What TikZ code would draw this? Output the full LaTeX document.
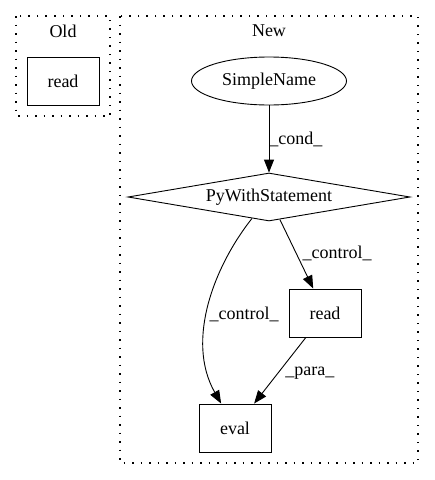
\documentclass[tikz,border=0pt]{standalone}
\usepackage{fontspec}
\setmainfont{Liberation Serif}
\usepackage{tikz}
\usetikzlibrary{shapes.geometric,arrows.meta}

\tikzset{
  box/.style={draw,line width=0.9pt,minimum width=72pt,minimum height=48pt,inner sep=0pt},
  oval/.style={draw,ellipse,line width=0.9pt,minimum width=155pt,minimum height=48pt,inner sep=0pt},
  rhomb/.style={draw,diamond,line width=0.9pt,aspect=6,minimum width=282pt,minimum height=48pt,inner sep=0pt},
  cluster/.style={line width=1.2pt,dash pattern=on 1.5pt off 7pt},
  edge/.style={line width=0.9pt,-{Triangle[length=13pt,width=10pt]}},
  lbl/.style={anchor=west,inner sep=0pt}
}

\begin{document}
\begin{tikzpicture}[x=1pt,y=-1pt,font=\fontsize{18}{20}\selectfont]
\useasboundingbox (0,0) rectangle (435,480);
\draw[cluster] (16,16) rectangle (110,116);
\draw[cluster] (120,16) rectangle (418,463);
\node (oldlabel) at (63,31) {Old};
\node (newlabel) at (269,31) {New};
\node[box] (oldread) at (63,81) {read};
\node[oval] (simplename) at (269,81) {SimpleName};
\node[rhomb] (pywith) at (269,197) {PyWithStatement};
\node[box] (newread) at (325,313) {read};
\node[box] (eval) at (235,428) {eval};
\draw[edge] (simplename) -- node[lbl,pos=0.5] {\_cond\_} (pywith);
\draw[edge] (pywith) -- node[lbl,pos=0.49,xshift=6pt] {\_control\_} (newread);
\draw[edge] (pywith) .. controls (215,265) and (185,340) .. node[lbl,pos=0.55,xshift=2pt] {\_control\_} (eval);
\draw[edge] (newread) -- node[lbl,pos=0.54,xshift=7pt] {\_para\_} (eval);
\end{tikzpicture}
\end{document}
